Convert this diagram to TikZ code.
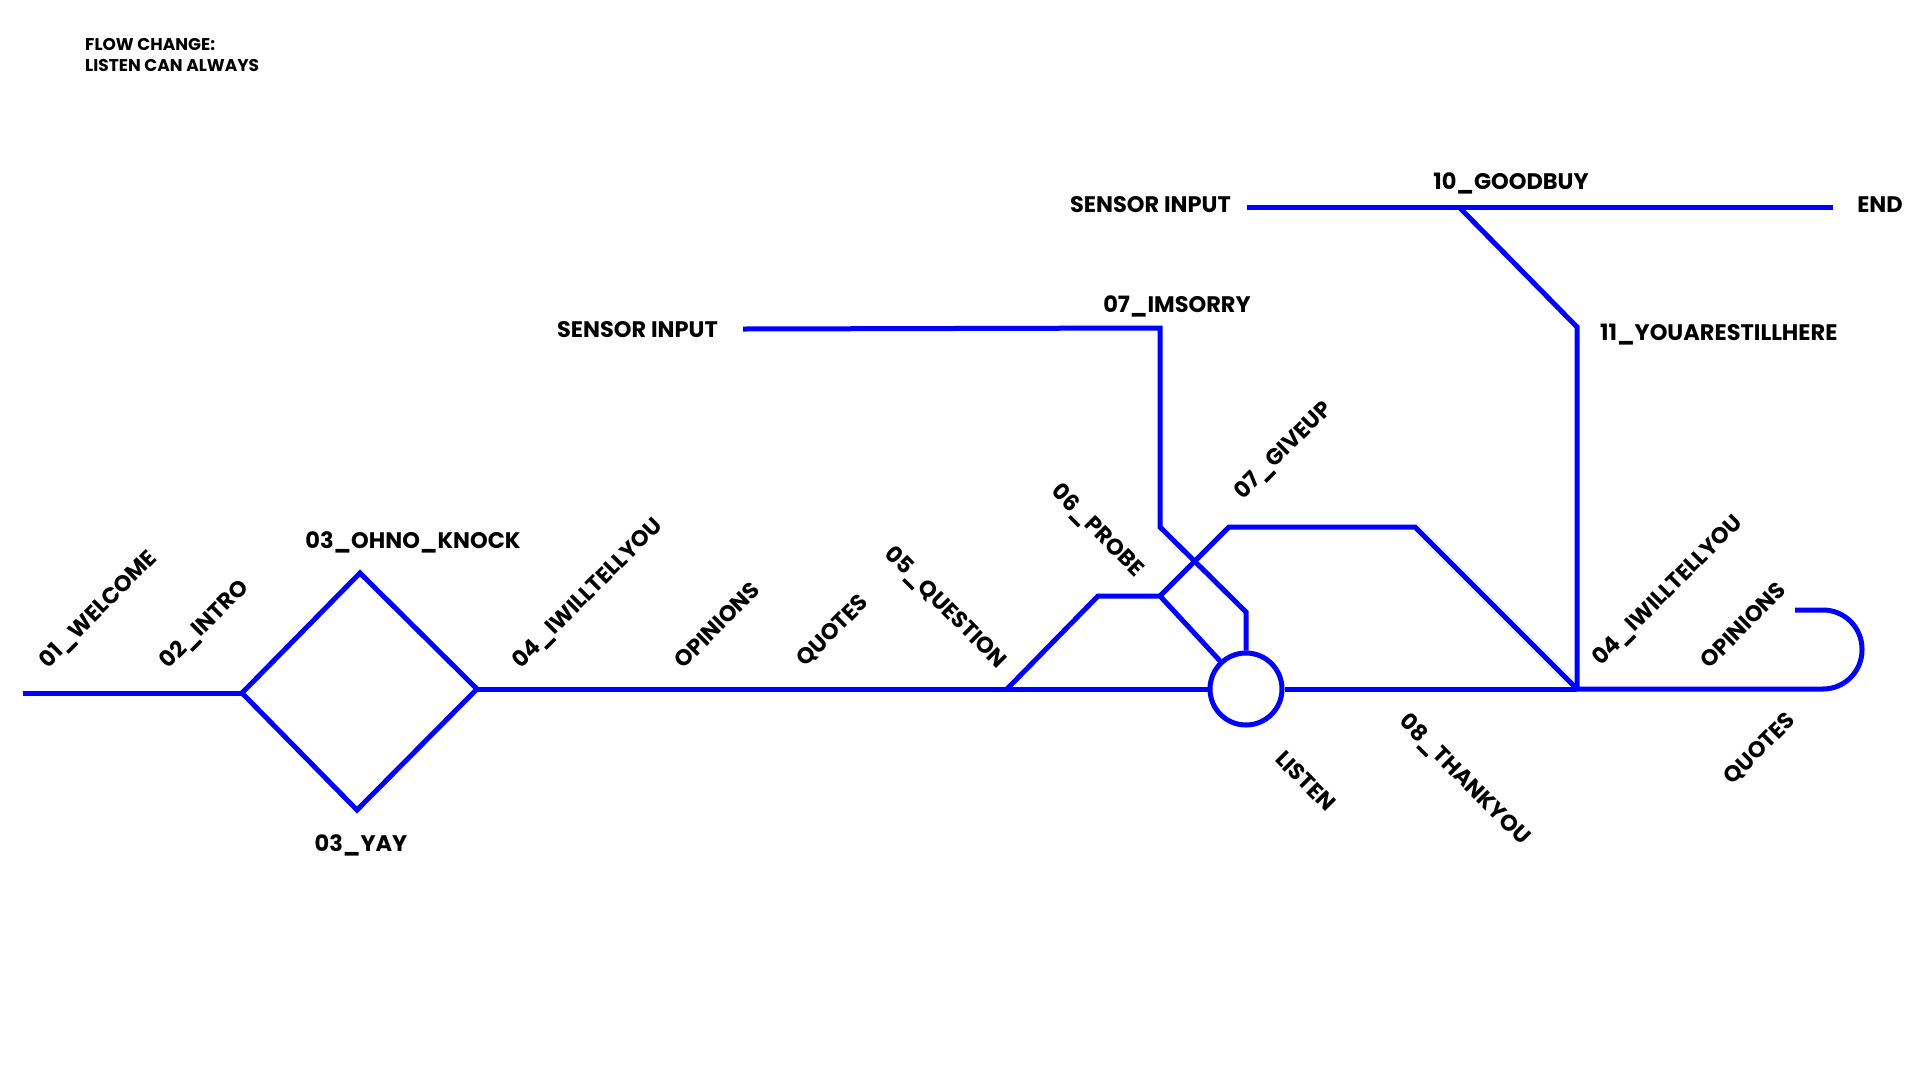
\documentclass[tikz,border=0pt]{standalone}
\usepackage{fontspec}
\setmainfont{Poppins}
\usepackage{tikz}
\usetikzlibrary{calc}

\definecolor{trackblue}{RGB}{0,0,255}
\tikzset{
  track/.style={draw=trackblue, line width=5pt},
  stop/.style={font=\bfseries\fontsize{22.5}{26}\selectfont, inner sep=0pt},
  stopup/.style={stop, rotate=45},
  stopdown/.style={stop, rotate=-45},
}

\begin{document}
\begin{tikzpicture}[x=1pt, y=-1pt]
\useasboundingbox (0,0) rectangle (1920,1080);
% track points
\coordinate (start) at (23,693);
\coordinate (intro) at (242,693);
\coordinate (knock) at (360,573);
\coordinate (yay) at (357,810);
\coordinate (diaR) at (477,689);
\coordinate (fork) at (1007,689);
\coordinate (probeA) at (1098,596);
\coordinate (probeB) at (1160,596);
\coordinate (giveA) at (1229,527);
\coordinate (giveB) at (1415,527);
\coordinate (tell) at (1577,689);
\coordinate (loopA) at (1862,689);
\coordinate (loopB) at (1862,610);
\coordinate (loopEnd) at (1795,610);
\coordinate (sensorA) at (743,329);
\coordinate (sorryA) at (1160,328);
\coordinate (sorryB) at (1160,527);
\coordinate (sorryC) at (1246,612);
\coordinate (sensorB) at (1247,207);
\coordinate (goodbuy) at (1459,207);
\coordinate (endpt) at (1833,207);
\coordinate (stillA) at (1577,327);
\node[draw=trackblue, line width=5pt, circle, minimum size=72pt, inner sep=0pt] (listen) at (1246,689) {};

% lines
\draw[track] (start) -- (intro);
\draw[track] (intro) -- (knock) -- (diaR) -- (yay) -- cycle;
\draw[track] (diaR) -- (fork) -- (listen);
\draw[track] (fork) -- (probeA) -- (probeB) -- (listen);
\draw[track] (probeB) -- (giveA) -- (giveB) -- (tell);
\draw[track] (sensorA) -- (sorryA) -- (sorryB) -- (sorryC) -- (listen);
\draw[track] (listen) -- (tell);
\draw[track, rounded corners=39pt] (tell) -- (loopA) -- (loopB) -- (loopEnd);
\draw[track] (sensorB) -- (goodbuy) -- (endpt);
\draw[track] (goodbuy) -- (stillA) -- (tell);

% labels
\node[anchor=west, align=left, inner sep=0pt, font=\bfseries\fontsize{17}{21}\selectfont] (flow) at (85,55) {FLOW CHANGE:\\LISTEN CAN ALWAYS};
\node[stopup] (welcome) at (99,610) {01\_WELCOME};
\node[stopup] (introlbl) at (205,625) {02\_INTRO};
\node[stop] (knocklbl) at (413,542) {03\_OHNO\_KNOCK};
\node[stop] (yaylbl) at (361,845) {03\_YAY};
\node[stopup] (tellA) at (588,594) {04\_IWILLTELLYOU};
\node[stopup] (opinA) at (717,625) {OPINIONS};
\node[stopup] (quoteA) at (833,631) {QUOTES};
\node[stopdown] (question) at (945,608) {05\_QUESTION};
\node[stopdown] (probe) at (1097,531) {06\_PROBE};
\node[stopup] (giveup) at (1284,451) {07\_GIVEUP};
\node[stopdown] (listenlbl) at (1306,781) {LISTEN};
\node[stopdown] (thanks) at (1464,780) {08\_THANKYOU};
\node[stopup] (tellB) at (1668,591) {04\_IWILLTELLYOU};
\node[stopup] (opinB) at (1743,625) {OPINIONS};
\node[stopup] (quoteB) at (1760,749) {QUOTES};
\node[stop, anchor=east] (sensorlblA) at (718,330) {SENSOR INPUT};
\node[stop] (sorry) at (1177,306) {07\_IMSORRY};
\node[stop, anchor=east] (sensorlblB) at (1231,205) {SENSOR INPUT};
\node[stop] (goodbuylbl) at (1511,183) {10\_GOODBUY};
\node[stop] (endlbl) at (1880,205) {END};
\node[stop, anchor=west] (still) at (1600,335) {11\_YOUARESTILLHERE};
\end{tikzpicture}
\end{document}
